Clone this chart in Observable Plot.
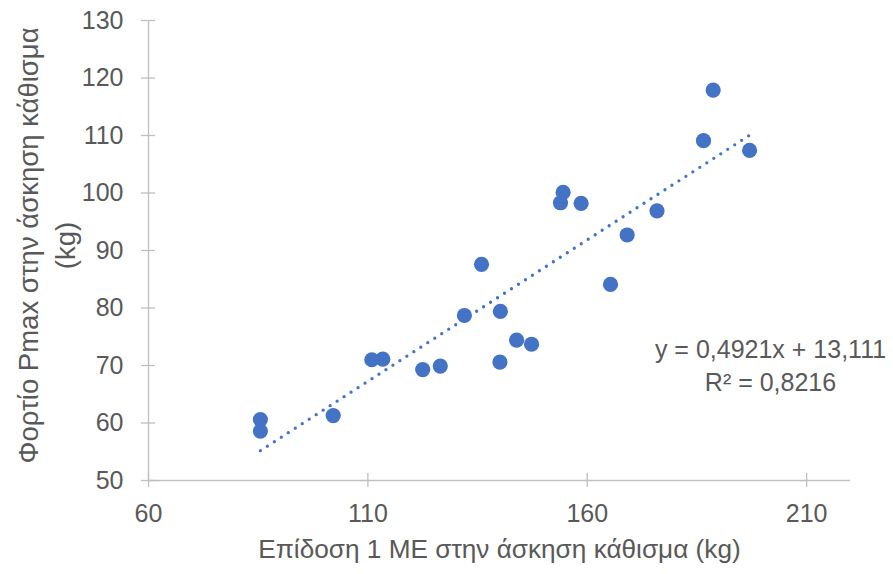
<!DOCTYPE html>
<html><head><meta charset="utf-8">
<script src="https://cdn.jsdelivr.net/npm/d3@7"></script>
<script src="https://cdn.jsdelivr.net/npm/@observablehq/plot@0.6"></script>
<style>html,body{margin:0;padding:0;background:#fff}</style>
</head><body><div id="chart"></div>
<script>
// Data
const performance1RM = [85.5, 85.5, 102.1, 110.9, 113.4, 122.5, 126.5, 132.0, 135.9, 140.2, 140.1, 143.9, 147.3, 153.9, 154.5, 158.6, 165.3, 169.1, 175.9, 186.5, 188.7, 197.0];
const pmaxLoad = [60.6, 58.6, 61.3, 71.0, 71.1, 69.3, 69.9, 78.7, 87.6, 79.4, 70.6, 74.4, 73.7, 98.3, 100.1, 98.2, 84.1, 92.7, 96.9, 109.1, 117.9, 107.4];
const xTicks = [60, 110, 160, 210];
const yTicks = [50, 60, 70, 80, 90, 100, 110, 120, 130];
const xDomain = [60, 220];
const yDomain = [50, 130];
const slope = 0.4921;
const intercept = 13.111;
const equationText = "y = 0,4921x + 13,111\nR² = 0,8216";
const xTitle = "Επίδοση 1 ΜΕ στην άσκηση κάθισμα (kg)";
const yTitle = "Φορτίο Pmax στην άσκηση κάθισμα\n(kg)";

const points = performance1RM.map((x, i) => ({x, y: pmaxLoad[i]}));
const xExtent = d3.extent(performance1RM);
const trend = xExtent.map(x => ({x, y: slope * x + intercept}));

const blue = "#4472C4";
const axisGray = "#bfbfbf";
const textGray = "#595959";
const font = "Liberation Sans";

const chart = Plot.plot({
  width: 893,
  height: 574,
  marginLeft: 148,
  marginRight: 43,
  marginTop: 20,
  marginBottom: 94,
  style: {fontFamily: font, background: "white"},
  x: {domain: xDomain},
  y: {domain: yDomain},
  marks: [
    Plot.ruleY([yDomain[0]], {stroke: axisGray, strokeWidth: 1.3}),
    Plot.ruleX([xDomain[0]], {stroke: axisGray, strokeWidth: 1.3}),
    Plot.ruleX(xTicks, {x: d => d, y1: yDomain[0], y2: yDomain[0], insetTop: -7, insetBottom: -7, stroke: axisGray, strokeWidth: 1.3}),
    Plot.ruleY(yTicks, {y: d => d, x1: xDomain[0], x2: xDomain[0], insetLeft: -7, insetRight: -7, stroke: axisGray, strokeWidth: 1.3}),
    Plot.axisX({ticks: xTicks, tickSize: 0, tickPadding: 24, fontSize: 25, color: textGray, label: null}),
    Plot.axisY({ticks: yTicks, tickSize: 0, tickPadding: 25, fontSize: 25, color: textGray, label: null}),
    Plot.line(trend, {x: "x", y: "y", stroke: blue, strokeWidth: 3.3, strokeDasharray: "0,8.3", strokeLinecap: "round"}),
    Plot.dot(points, {x: "x", y: "y", r: 7.6, fill: blue}),
    Plot.text([equationText], {frameAnchor: "top-right", dx: -80, dy: 314, textAnchor: "middle", lineAnchor: "top", lineHeight: 1.32, fontSize: 25, fill: textGray}),
    Plot.text([xTitle], {frameAnchor: "bottom", dy: 77, lineAnchor: "bottom", fontSize: 26.2, fill: textGray}),
    Plot.text([yTitle], {frameAnchor: "left", dx: -136, dy: -5, rotate: -90, textAnchor: "middle", lineAnchor: "top", lineHeight: 1.33, fontSize: 27.5, fill: textGray})
  ]
});
document.getElementById("chart").appendChild(chart);
</script>
</body></html>
